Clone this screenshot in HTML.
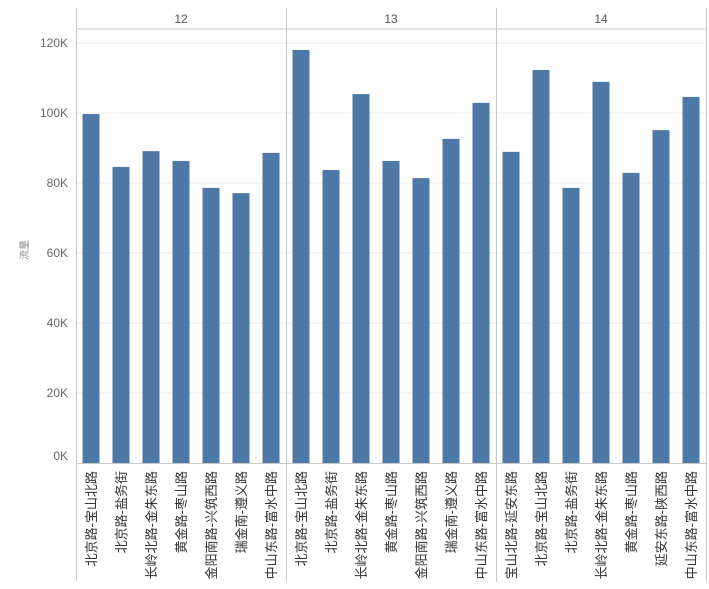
<!DOCTYPE html>
<html><head><meta charset="utf-8"><style>
body{margin:0;background:#fff;}
svg{display:block;font-family:"Liberation Sans","Noto Sans CJK SC",sans-serif;}
</style></head><body>
<svg id="c" width="709" height="589"></svg>
<script>
const panels=["12","13","14"];
const cats12=["北京路-宝山北路","北京路-盐务街","长岭北路-金朱东路","黄金路-枣山路","金阳南路-兴筑西路","瑞金南-遵义路","中山东路-富水中路"];
const cats13=["北京路-宝山北路","北京路-盐务街","长岭北路-金朱东路","黄金路-枣山路","金阳南路-兴筑西路","瑞金南-遵义路","中山东路-富水中路"];
const cats14=["宝山北路-延安东路","北京路-宝山北路","北京路-盐务街","长岭北路-金朱东路","黄金路-枣山路","延安东路-陕西路","中山东路-富水中路"];
const vals12=[99.7,84.6,89.1,86.3,78.6,77.1,88.6];
const vals13=[118,83.7,105.4,86.3,81.4,92.6,102.9];
const vals14=[88.9,112.3,78.6,108.9,82.9,95.1,104.6];
const yTicks=[0,20,40,60,80,100,120];
const cats=[cats12,cats13,cats14], vals=[vals12,vals13,vals14];
const NS="http://www.w3.org/2000/svg";
const svg=document.getElementById('c');
const X0=76,PW=210,Y0=463,YT=29,SLOT=30,BW=17;
const y=v=>Y0-v*3.5;
function mk(t,a,p){const e=document.createElementNS(NS,t);for(const k in a)e.setAttribute(k,a[k]);(p||svg).appendChild(e);return e;}
// gridlines and y labels
yTicks.forEach(t=>{
 if(t>0){const g=mk('line',{x1:X0,x2:X0+3*PW,y1:y(t),y2:y(t),stroke:'#eeeeee'});
 
 }
 const tx=mk('text',{x:X0-8,y:y(t)+(t===0?-3:4),'text-anchor':'end','font-size':12,fill:'#666'});
 tx.textContent=t+'K';
 
 
});
const yt=mk('text',{x:28,y:250,'font-size':10,fill:'#888','text-anchor':'middle',transform:'rotate(-90 28 250)'});
yt.textContent='流量';


// header/frame lines
mk('line',{x1:X0,x2:X0+3*PW,y1:YT,y2:YT,stroke:'#c8c8c8'});
mk('line',{x1:X0,x2:X0+3*PW,y1:Y0+0.5,y2:Y0+0.5,stroke:'#c8c8c8'});
for(let i=0;i<=3;i++){const l=mk('line',{x1:X0+i*PW+0.5,x2:X0+i*PW+0.5,y1:8,y2:582,stroke:'#c8c8c8'});
 
 }
panels.forEach((p,pi)=>{
 const px=X0+pi*PW;
 const h=mk('text',{x:px+PW/2,y:23,'text-anchor':'middle','font-size':12,fill:'#555'});
 h.textContent=p;
 
 
 cats[pi].forEach((c,i)=>{
  const bx=px+i*SLOT+6.5;
  const v=vals[pi][i];
  const r=mk('rect',{x:bx,y:y(v),width:BW,height:Y0-y(v),fill:'#4e79a7'});
  
  
  const cx=bx+BW/2+5, cy=471;
  const t=mk('text',{x:cx,y:cy,'text-anchor':'end','font-size':13,fill:'#333',transform:'rotate(-90 '+cx+' '+cy+')'});
  t.textContent=c;
  
  
 });
});
</script>
</body></html>
